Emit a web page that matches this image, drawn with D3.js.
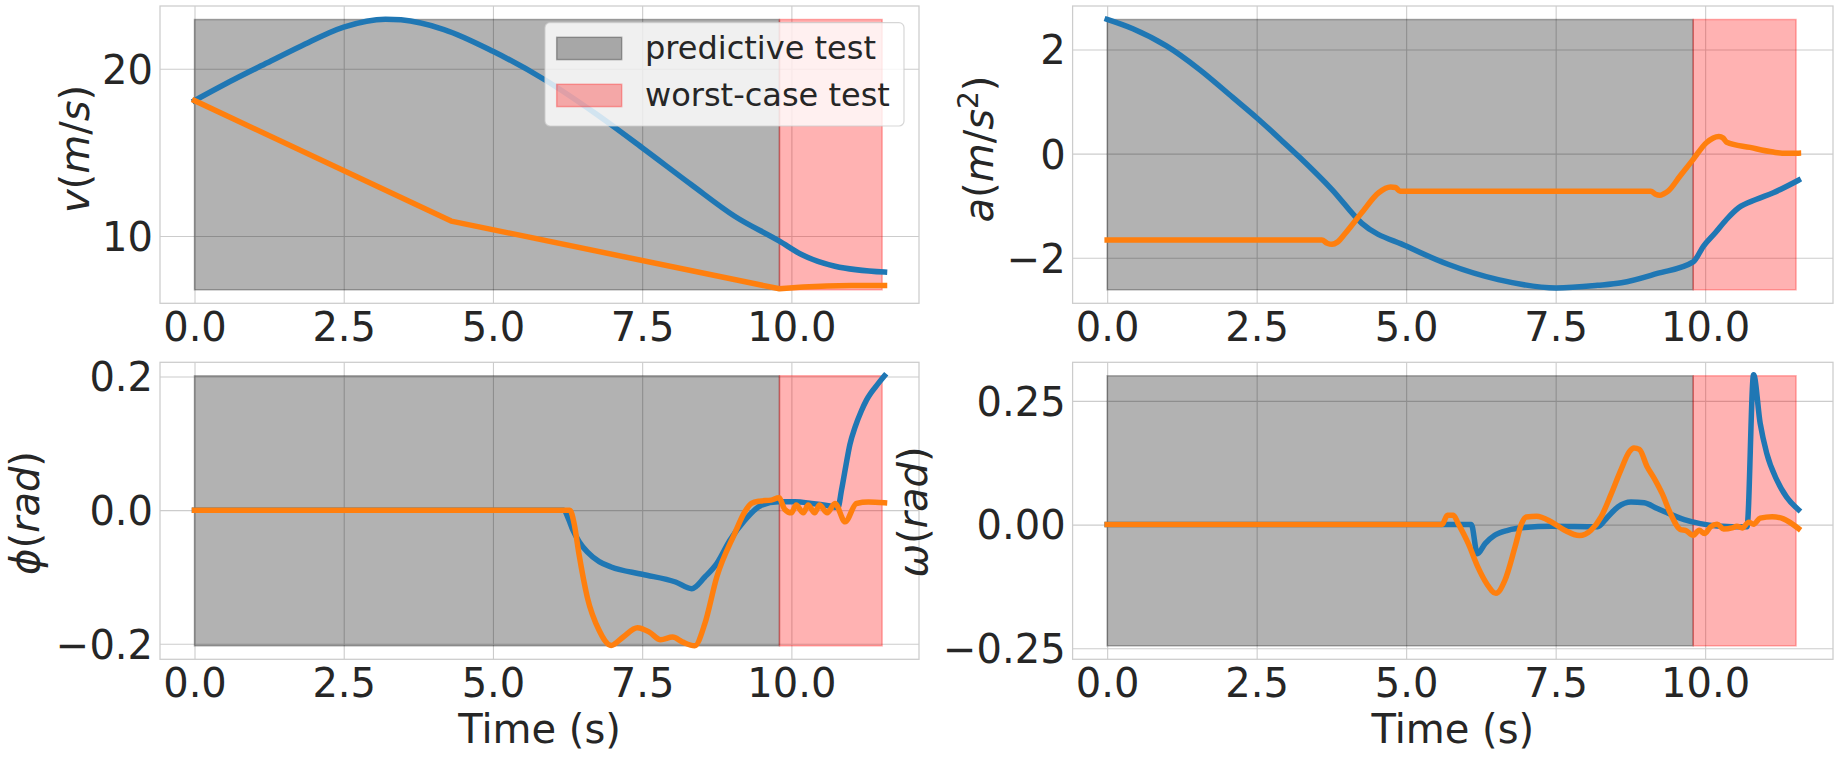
<!DOCTYPE html>
<html>
<head>
<meta charset="utf-8">
<script src="https://cdnjs.cloudflare.com/ajax/libs/d3/7.8.5/d3.min.js"></script>
<style>
body { margin: 0; background: #fff; }
text { font-family: "DejaVu Sans", sans-serif; fill: #262626; }
</style>
</head>
<body>
<script>
// ---- values ----
// time ticks shared by all panels
var tickX = [0, 2.5, 5, 7.5, 10];
// where the predictive window stops and the worst-case window stops
var tSplit = 9.8;
var tBandEnd = 11.52;

// v (m/s)
var tVBlue = [0, 0.66, 1.22, 1.78, 2.5, 3.2, 3.46, 4.18, 5.0, 5.86, 6.70, 7.5, 8.32, 9.05, 9.80, 10.17, 10.73, 11.56];
var vBlue = [18.10, 19.36, 20.36, 21.35, 22.5, 22.97, 22.93, 22.35, 21.05, 19.36, 17.37, 15.28, 13.08, 11.18, 9.69, 8.89, 8.19, 7.84];
var tVOrange = [0, 4.30, 9.80, 10.2, 10.6, 11.0, 11.56];
var vOrange = [18.10, 10.89, 6.84, 6.95, 7.01, 7.04, 7.04];

// a (m/s^2)
var tABlue = [0, 0.43, 0.99, 1.54, 2.10, 2.50, 2.93, 3.21, 3.76, 4.26, 5.01, 5.71, 6.54, 7.51, 8.20, 8.6, 9.2, 9.80, 9.97, 10.17, 10.36, 10.56, 10.85, 11.14, 11.56];
var aBlue = [2.58, 2.40, 2.07, 1.62, 1.08, 0.69, 0.24, -0.06, -0.69, -1.34, -1.78, -2.13, -2.42, -2.58, -2.53, -2.48, -2.30, -2.08, -1.78, -1.52, -1.26, -1.04, -0.88, -0.75, -0.51];
var tAOrange = [0, 3.59, 3.68, 3.76, 3.85, 3.99, 4.26, 4.54, 4.74, 4.82, 4.90, 9.09, 9.17, 9.24, 9.31, 9.38, 9.58, 9.80, 10.02, 10.23, 10.30, 10.36, 10.75, 11.14, 11.34, 11.56];
var aOrange = [-1.66, -1.66, -1.72, -1.74, -1.70, -1.52, -1.13, -0.75, -0.64, -0.65, -0.72, -0.72, -0.78, -0.80, -0.77, -0.72, -0.43, -0.11, 0.21, 0.33, 0.30, 0.22, 0.12, 0.03, 0.006, 0.01];

// phi (rad)
var tPhiBlue = [0, 6.19, 6.26, 6.34, 6.45, 6.58, 6.78, 6.98, 7.5, 8.06, 8.33, 8.55, 8.75, 8.97, 9.22, 9.5, 9.78, 10.06, 10.34, 10.62, 10.78, 10.84, 10.91, 10.98, 11.07, 11.17, 11.26, 11.46, 11.56];
var phiBlue = [0, 0, -0.012, -0.03, -0.048, -0.0625, -0.077, -0.085, -0.096, -0.1075, -0.1175, -0.10, -0.08, -0.045, -0.015, 0.0075, 0.0125, 0.0125, 0.01, 0.0065, 0.004, 0.03, 0.065, 0.098, 0.125, 0.148, 0.165, 0.19, 0.201];
var tPhiOrange = [0, 6.29, 6.36, 6.44, 6.58, 6.78, 6.98, 7.18, 7.42, 7.62, 7.81, 8.01, 8.18, 8.38, 8.55, 8.75, 9.05, 9.22, 9.33, 9.47, 9.66, 9.79, 9.89, 10.0, 10.08, 10.2, 10.28, 10.39, 10.47, 10.6, 10.73, 10.9, 11.09, 11.29, 11.56];
var phiOrange = [0, 0, -0.02, -0.065, -0.13, -0.18, -0.2025, -0.19, -0.176, -0.1825, -0.194, -0.19, -0.1975, -0.203, -0.17, -0.10, -0.035, -0.0025, 0.010, 0.0135, 0.015, 0.0185, 0.001, -0.004, 0.0075, -0.004, 0.0075, -0.004, 0.0075, -0.004, 0.01, -0.0175, 0.01, 0.012, 0.011];

// omega (rad)
var tOmBlue = [0, 6.09, 6.19, 6.32, 6.48, 6.70, 6.98, 7.43, 8.2, 8.37, 8.54, 8.76, 8.98, 9.2, 9.42, 9.65, 9.92, 10.2, 10.7, 10.81, 10.92, 11.03, 11.2, 11.36, 11.56];
var omBlue = [0, 0, -0.059, -0.0385, -0.0217, -0.0115, -0.006, -0.0035, -0.0045, 0.0155, 0.0357, 0.0458, 0.044, 0.0324, 0.0209, 0.0101, 0.002, -0.0027, -0.0045, 0.303, 0.2047, 0.144, 0.0898, 0.056, 0.03];
var tOmOrange = [0, 5.6, 5.69, 5.79, 5.87, 6.04, 6.2, 6.35, 6.5, 6.65, 6.82, 6.93, 7.01, 7.18, 7.43, 7.65, 7.90, 8.09, 8.26, 8.42, 8.59, 8.73, 8.81, 8.90, 9.03, 9.15, 9.28, 9.42, 9.59, 9.67, 9.80, 9.90, 9.99, 10.09, 10.2, 10.31, 10.45, 10.53, 10.62, 10.73, 10.81, 10.92, 11.12, 11.31, 11.56];
var omOrange = [0, 0, 0.019, 0.019, 0.002, -0.0385, -0.086, -0.12, -0.139, -0.113, -0.0454, 0.002, 0.0155, 0.0168, 0.0053, -0.0115, -0.0223, -0.0115, 0.0155, 0.0594, 0.11, 0.147, 0.155, 0.152, 0.117, 0.093, 0.063, 0.0223, -0.0101, -0.0115, -0.0217, -0.0115, -0.0182, -0.0047, 0.0007, -0.009, -0.0067, -0.0034, -0.0067, 0.0047, 0.0007, 0.013, 0.016, 0.0115, -0.008];

// shaded bands, bottom and top edge for each panel (v, a, phi, omega)
var bandLow = [6.78, -2.615, -0.203, -0.245];
var bandHigh = [22.95, 2.577, 0.201, 0.3007];

// y tick labels for each panel
var yTicksV = [10, 20];
var yTicksA = [-2, 0, 2];
var yTicksPhi = [-0.2, 0, 0.2];
var yTicksOm = [-0.25, 0, 0.25];

var legendNames = ["predictive test", "worst-case test"];

// ---- drawing ----
var W = 1840, H = 757;
var blue = "#1f77b4", orange = "#ff7f0e";

var svg = d3.select("body").append("svg")
  .attr("width", W)
  .attr("height", H);

// x limits like matplotlib's 5% margin around the time data
var tMax = d3.max([tVBlue, tVOrange, tABlue, tAOrange, tPhiBlue, tPhiOrange, tOmBlue, tOmOrange], function(a) { return d3.max(a); });
var xDomain = [-0.05 * tMax, 1.05 * tMax];

var panels = [
  { x0: 160, x1: 919, y0: 6, y1: 303.3, tB: tVBlue, yB: vBlue, tO: tVOrange, yO: vOrange, k: 0,
    ticks: yTicksV, fmt: "d", label: [["v", 1], ["(", 0], ["m", 1], ["/", 0], ["s", 1], [")", 0]],
    lx: 89, ly: 149, linearOrange: true, xlabel: false },
  { x0: 1072.6, x1: 1833, y0: 6, y1: 303.3, tB: tABlue, yB: aBlue, tO: tAOrange, yO: aOrange, k: 1,
    ticks: yTicksA, fmt: "d", label: [["a", 1], ["(", 0], ["m", 1], ["/", 0], ["s", 1], ["2", 0, 1], [")", 0]],
    lx: 993, ly: 149, xlabel: false },
  { x0: 160, x1: 919, y0: 362.3, y1: 659.3, tB: tPhiBlue, yB: phiBlue, tO: tPhiOrange, yO: phiOrange, k: 2,
    ticks: yTicksPhi, fmt: ".1f", label: [["\u03d5", 1], ["(", 0], ["r", 1], ["a", 1], ["d", 1], [")", 0]],
    lx: 39, ly: 513, xlabel: true },
  { x0: 1072.6, x1: 1833, y0: 362.3, y1: 659.3, tB: tOmBlue, yB: omBlue, tO: tOmOrange, yO: omOrange, k: 3,
    ticks: yTicksOm, fmt: ".2f", label: [["\u03c9", 1], ["(", 0], ["r", 1], ["a", 1], ["d", 1], [")", 0]],
    lx: 927, ly: 512, xlabel: true }
];

panels.forEach(function(p) {
  var lo = bandLow[p.k], hi = bandHigh[p.k];
  var pad = (hi - lo) * 0.05;
  var x = d3.scaleLinear().domain(xDomain).range([p.x0, p.x1]);
  var y = d3.scaleLinear().domain([lo - pad, hi + pad]).range([p.y1, p.y0]);
  var g = svg.append("g");

  // x grid + tick labels
  var gx = g.append("g")
    .attr("transform", "translate(0," + p.y1 + ")")
    .call(d3.axisBottom(x).tickValues(tickX).tickFormat(d3.format(".1f"))
      .tickSize(-(p.y1 - p.y0)).tickPadding(9));
  // y grid + tick labels
  var gy = g.append("g")
    .attr("transform", "translate(" + p.x0 + ",0)")
    .call(d3.axisLeft(y).tickValues(p.ticks).tickFormat(d3.format(p.fmt))
      .tickSize(-(p.x1 - p.x0)).tickPadding(7));
  [gx, gy].forEach(function(a) {
    a.attr("font-size", 40).attr("font-family", "DejaVu Sans");
    a.select(".domain").remove();
    a.selectAll(".tick line").attr("stroke", "#cccccc").attr("stroke-width", 1.1);
    a.selectAll(".tick text").attr("fill", "#262626");
  });
  gy.selectAll(".tick text").attr("dy", "0.36em");

  // shaded windows
  g.append("rect")
    .attr("x", x(0)).attr("width", x(tSplit) - x(0))
    .attr("y", y(hi)).attr("height", y(lo) - y(hi))
    .attr("fill", "black").attr("fill-opacity", 0.3)
    .attr("stroke", "black").attr("stroke-opacity", 0.3).attr("stroke-width", 1.5);
  g.append("rect")
    .attr("x", x(tSplit)).attr("width", x(tBandEnd) - x(tSplit))
    .attr("y", y(hi)).attr("height", y(lo) - y(hi))
    .attr("fill", "red").attr("fill-opacity", 0.3)
    .attr("stroke", "red").attr("stroke-opacity", 0.3).attr("stroke-width", 1.5);

  // the two traces
  var smooth = d3.line().x(function(d) { return x(d[0]); }).y(function(d) { return y(d[1]); }).curve(d3.curveMonotoneX);
  var straight = d3.line().x(function(d) { return x(d[0]); }).y(function(d) { return y(d[1]); });
  g.append("path")
    .attr("d", smooth(d3.zip(p.tB, p.yB)))
    .attr("fill", "none").attr("stroke", blue).attr("stroke-width", 5.5)
    .attr("stroke-linecap", "square").attr("stroke-linejoin", "round");
  g.append("path")
    .attr("d", (p.linearOrange ? straight : smooth)(d3.zip(p.tO, p.yO)))
    .attr("fill", "none").attr("stroke", orange).attr("stroke-width", 5.5)
    .attr("stroke-linecap", "square").attr("stroke-linejoin", "round");

  // frame
  g.append("rect")
    .attr("x", p.x0).attr("y", p.y0)
    .attr("width", p.x1 - p.x0).attr("height", p.y1 - p.y0)
    .attr("fill", "none").attr("stroke", "#cccccc").attr("stroke-width", 1.25);

  // y label, math style: letters italic
  var lab = g.append("text")
    .attr("transform", "translate(" + p.lx + "," + p.ly + ") rotate(-90)")
    .attr("text-anchor", "middle")
    .attr("font-size", 40);
  p.label.forEach(function(s) {
    var ts = lab.append("tspan").text(s[0]).attr("font-style", s[1] ? "italic" : "normal");
    if (s[2]) ts.attr("font-size", 28).attr("dy", -15);
  });
  lab.selectAll("tspan").filter(function(d, i) { return i > 0 && p.label[i - 1][2]; }).attr("dy", 15);

  if (p.xlabel) {
    g.append("text")
      .attr("x", (p.x0 + p.x1) / 2).attr("y", 742.5)
      .attr("text-anchor", "middle")
      .attr("font-size", 40)
      .text("Time (s)");
  }
});

// legend in the first panel
var lg = svg.append("g");
lg.append("rect")
  .attr("x", 545).attr("y", 22.7).attr("width", 359).attr("height", 103.3)
  .attr("rx", 5)
  .attr("fill", "white").attr("fill-opacity", 0.8)
  .attr("stroke", "#cccccc").attr("stroke-opacity", 0.8).attr("stroke-width", 1.2);
var legColors = ["black", "red"];
legendNames.forEach(function(name, i) {
  lg.append("rect")
    .attr("x", 556.7).attr("y", 37.3 + i * 47).attr("width", 65).attr("height", 22.3)
    .attr("fill", legColors[i]).attr("fill-opacity", 0.3)
    .attr("stroke", legColors[i]).attr("stroke-opacity", 0.3).attr("stroke-width", 1.5);
  lg.append("text")
    .attr("x", 645).attr("y", 59.3 + i * 47)
    .attr("font-size", 32)
    .text(name);
});
</script>
</body>
</html>
